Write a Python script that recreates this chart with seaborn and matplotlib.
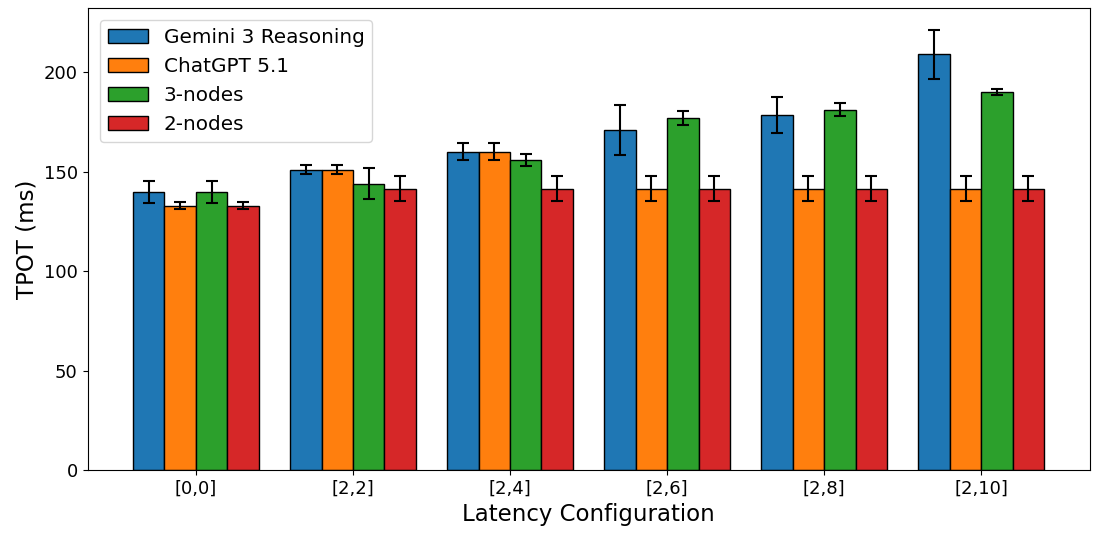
import numpy as np
import pandas as pd
import matplotlib
matplotlib.use("Agg")
import matplotlib.pyplot as plt
import seaborn as sns

configs = ["[0,0]", "[2,2]", "[2,4]", "[2,6]", "[2,8]", "[2,10]"]
series = ["Gemini 3 Reasoning", "ChatGPT 5.1", "3-nodes", "2-nodes"]
gemini = [140.0, 151.0, 160.0, 171.0, 178.5, 209.0]
gemini_err = [5.5, 2.3, 4.3, 12.5, 9.0, 12.3]
chatgpt = [133.0, 151.0, 160.0, 141.5, 141.5, 141.5]
chatgpt_err = [1.8, 2.3, 4.3, 6.4, 6.4, 6.4]
nodes3 = [140.0, 144.0, 156.0, 177.0, 181.3, 190.3]
nodes3_err = [5.5, 7.8, 3.0, 3.7, 3.4, 1.5]
nodes2 = [133.0, 141.5, 141.5, 141.5, 141.5, 141.5]
nodes2_err = [1.8, 6.4, 6.4, 6.4, 6.4, 6.4]
colors = ["#1f77b4", "#ff7f0e", "#2ca02c", "#d62728"]

vals = [gemini, chatgpt, nodes3, nodes2]
errs = [gemini_err, chatgpt_err, nodes3_err, nodes2_err]
rows = []
for s, v, e in zip(series, vals, errs):
    for c, vv, ee in zip(configs, v, e):
        rows.append({"config": c, "series": s, "TPOT": vv, "err": ee})
df = pd.DataFrame(rows)

fig, ax = plt.subplots(figsize=(10.94, 5.34), dpi=100)
sns.barplot(data=df, x="config", y="TPOT", hue="series", hue_order=series,
            order=configs, palette=colors, edgecolor="black", linewidth=1,
            errorbar=None, width=0.8, ax=ax, saturation=1)

# error bars positioned at seaborn's bar patches
for container, s in zip(ax.containers, series):
    sub = df[df["series"] == s].set_index("config").loc[configs]
    xs = [p.get_x() + p.get_width() / 2 for p in container.patches]
    ys = [p.get_height() for p in container.patches]
    ax.errorbar(xs, ys, yerr=sub["err"].values, fmt="none", ecolor="black",
                elinewidth=1.5, capsize=4.5, capthick=1.5, zorder=5)

ax.set_xlabel("Latency Configuration", fontsize=16.5)
ax.set_ylabel("TPOT (ms)", fontsize=16.5)
ax.tick_params(axis="both", labelsize=13)
ax.legend(loc="upper left", fontsize=14.4, borderaxespad=0.6)
ax.margins(x=0.05)
fig.subplots_adjust(left=0.08, right=0.996, top=0.985, bottom=0.12)
fig.savefig("out.png", dpi=100)
